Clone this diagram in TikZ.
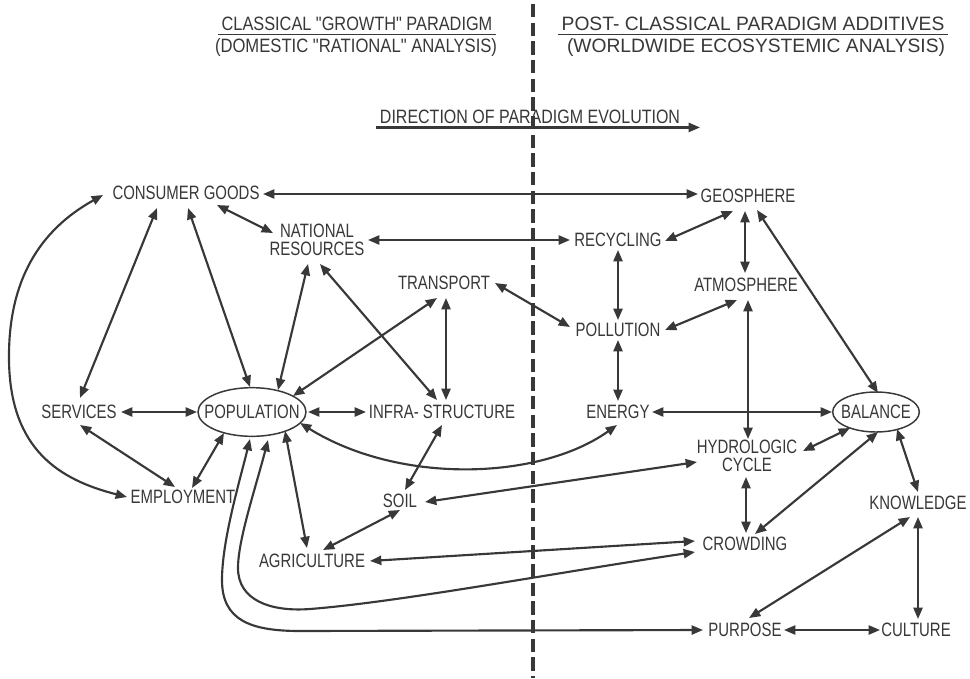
\documentclass[tikz,border=0pt]{standalone}
\usepackage{fontspec}
\usepackage{graphicx}
\newfontfamily\lbfont{Liberation Sans}[FakeStretch=0.773]
\newcommand\hfitw[2]{\resizebox{#1}{\height}{#2}}
\usetikzlibrary{arrows.meta,calc,shapes.geometric}
\definecolor{ink}{HTML}{383838}
\begin{document}
\begin{tikzpicture}[x=0.75pt,y=-0.75pt,
  lbl/.style={font=\lbfont\fontsize{14.5}{13.2}\selectfont, text=ink, inner sep=1pt, align=center},
  hdr/.style={lbl, inner sep=2.5pt},
  ring/.style={draw=ink, ellipse, line width=1.1pt, inner sep=0pt},
  link/.style={draw=ink, line width=1.6pt, {Triangle[length=8.5pt,width=6.8pt]}-{Triangle[length=8.5pt,width=6.8pt]}},
  uline/.style={draw=ink, line width=1.1pt},
  divider/.style={draw=ink, line width=3pt, dash pattern=on 10pt off 4pt}]
\useasboundingbox[fill=white] (0,0) rectangle (970,678);

% divider
\coordinate (dtop) at (533,4);
\coordinate (dbot) at (533,678);
\draw[divider] (dtop) -- (dbot);

% headers
\node[hdr] (h1) at (357,24) {\hfitw{203pt}{CLASSICAL "GROWTH" PARADIGM}};
\node[hdr] (h2) at (356,47) {\hfitw{211.5pt}{(DOMESTIC "RATIONAL" ANALYSIS)}};
\node[hdr] (h3) at (753,24) {\hfitw{287pt}{POST- CLASSICAL PARADIGM ADDITIVES}};
\node[hdr] (h4) at (756,47) {\hfitw{283.5pt}{(WORLDWIDE ECOSYSTEMIC ANALYSIS)}};
\node[hdr] (dir) at (530,117) {\hfitw{225pt}{DIRECTION OF PARADIGM EVOLUTION}};
\coordinate (dirend) at (700,128);
\draw[uline] (h1.south west) -- (h1.south east);
\draw[uline] (h3.south west) -- (h3.south east);
\draw[uline, line width=1.6pt, -{Triangle[length=8.5pt,width=6.8pt]}] (dir.south west) -- (dir.south west -| dirend);

% nodes
\node[lbl] (cg) at (186,193) {CONSUMER GOODS};
\node[lbl] (nr) at (317,240) {NATIONAL\\RESOURCES};
\node[lbl] (geo) at (748,196) {GEOSPHERE};
\node[lbl] (rec) at (618,240) {RECYCLING};
\node[lbl] (trans) at (444,283) {TRANSPORT};
\node[lbl] (atm) at (746,285) {ATMOSPHERE};
\node[lbl] (pol) at (618,330) {POLLUTION};
\node[lbl] (serv) at (79,412) {SERVICES};
\node[lbl] (pop) at (252,412) {POPULATION};
\node[ring, minimum width=81pt, minimum height=36.5pt] (popring) at (pop) {};
\node[lbl] (infra) at (442,412) {INFRA- STRUCTURE};
\node[lbl] (energy) at (618,412) {ENERGY};
\node[lbl] (bal) at (876,412) {BALANCE};
\node[ring, minimum width=65pt, minimum height=30pt] (balring) at (bal) {};
\node[lbl] (hyd) at (747,456) {HYDROLOGIC\\CYCLE};
\node[lbl] (emp) at (183,497) {EMPLOYMENT};
\node[lbl] (soil) at (400,501) {SOIL};
\node[lbl] (know) at (918,503) {KNOWLEDGE};
\node[lbl] (agri) at (312,561) {AGRICULTURE};
\node[lbl] (crowd) at (745,544) {CROWDING};
\node[lbl] (purp) at (745,630) {PURPOSE};
\node[lbl] (cult) at (916,630) {CULTURE};

% connectors
\draw[link] ($(cg)+(77,1)$) -- ($(geo)+(-50,-2)$);
\draw[link] ($(cg)+(31,12)$) -- ($(nr)+(-44,-7)$);
\draw[link] ($(cg)+(-29,15)$) -- ($(serv)+(1,-14)$);
\draw[link] ($(cg)+(2,15)$) -- ($(pop)+(-2,-25)$);
\draw[link] ($(cg)+(-83,2)$) .. controls (40,230) and (8,280) .. (9,360) .. controls (10,450) and (60,480) .. ($(emp)+(-56,0)$);
\draw[link] ($(nr)+(51,0)$) -- ($(rec)+(-48,0)$);
\draw[link] ($(nr)+(-9,24)$) -- ($(pop)+(26,-22)$);
\draw[link] ($(nr)+(3,24)$) -- ($(infra)+(-5,-12)$);
\draw[link] ($(trans)+(-7,15)$) -- ($(pop)+(41,-16)$);
\draw[link] ($(trans)+(2,15)$) -- ($(infra)+(4,-12)$);
\draw[link] ($(trans)+(51,0)$) -- ($(pol)+(-48,-3)$);
\draw[link] ($(rec)+(0,10)$) -- ($(pol)+(0,-10)$);
\draw[link] ($(pol)+(0,10)$) -- ($(energy)+(0,-11)$);
\draw[link] ($(rec)+(47,1)$) -- ($(geo)+(-15,15)$);
\draw[link] ($(geo)+(-3,15)$) -- ($(atm)+(-1,-12)$);
\draw[link] ($(pol)+(47,0)$) -- ($(atm)+(-9,15)$);
\draw[link] ($(geo)+(9,14)$) -- ($(bal)+(2,-19)$);
\draw[link] ($(atm)+(2,15)$) -- ($(hyd)+(1,-17)$);
\draw[link] ($(serv)+(42,0)$) -- ($(pop)+(-55,0)$);
\draw[link] ($(serv)+(1,13)$) -- ($(emp)+(-8,-10)$);
\draw[link] ($(emp)+(9,-9)$) -- ($(pop)+(-28,21)$);
\draw[link] ($(pop)+(56,0)$) -- ($(infra)+(-76,0)$);
\draw[link] ($(pop)+(48,11)$) .. controls (400,485) and (540,480) .. ($(energy)+(-1,13)$);
\draw[link] ($(energy)+(34,0)$) -- ($(bal)+(-44,0)$);
\draw[link] ($(hyd)+(56,-5)$) -- ($(bal)+(-26,16)$);
\draw[link] ($(crowd)+(10,-10)$) -- ($(bal)+(2,20)$);
\draw[link] ($(bal)+(21,17)$) -- ($(know)+(0,-11)$);
\draw[link] ($(hyd)+(-1,21)$) -- ($(crowd)+(1,-11)$);
\draw[link] ($(infra)+(0,13)$) -- ($(soil)+(5,-11)$);
\draw[link] ($(soil)+(25,1)$) -- ($(hyd)+(-50,6)$);
\draw[link] ($(soil)+(0,9)$) -- ($(agri)+(11,-11)$);
\draw[link] ($(pop)+(33,19)$) -- ($(agri)+(-5,-13)$);
\draw[link] ($(agri)+(58,0)$) -- ($(crowd)+(-50,-3)$);
\draw[link] ($(pop)+(16,28)$) .. controls (255,490) and (238,540) .. (238,568) .. controls (238,600) and (270,612) .. (310,609) .. controls (400,602) and (560,572) .. ($(crowd)+(-50,8)$);
\draw[link] ($(pop)+(-2,27)$) .. controls (240,480) and (222,540) .. (222,580) .. controls (222,620) and (250,631) .. (300,631) -- ($(purp)+(-42,0)$);
\draw[link] ($(purp)+(39,0)$) -- ($(cult)+(-36,0)$);
\draw[link] ($(purp)+(4,-12)$) -- ($(know)+(-8,14)$);
\draw[link] ($(know)+(0,14)$) -- ($(cult)+(2,-11)$);
\end{tikzpicture}
\end{document}
